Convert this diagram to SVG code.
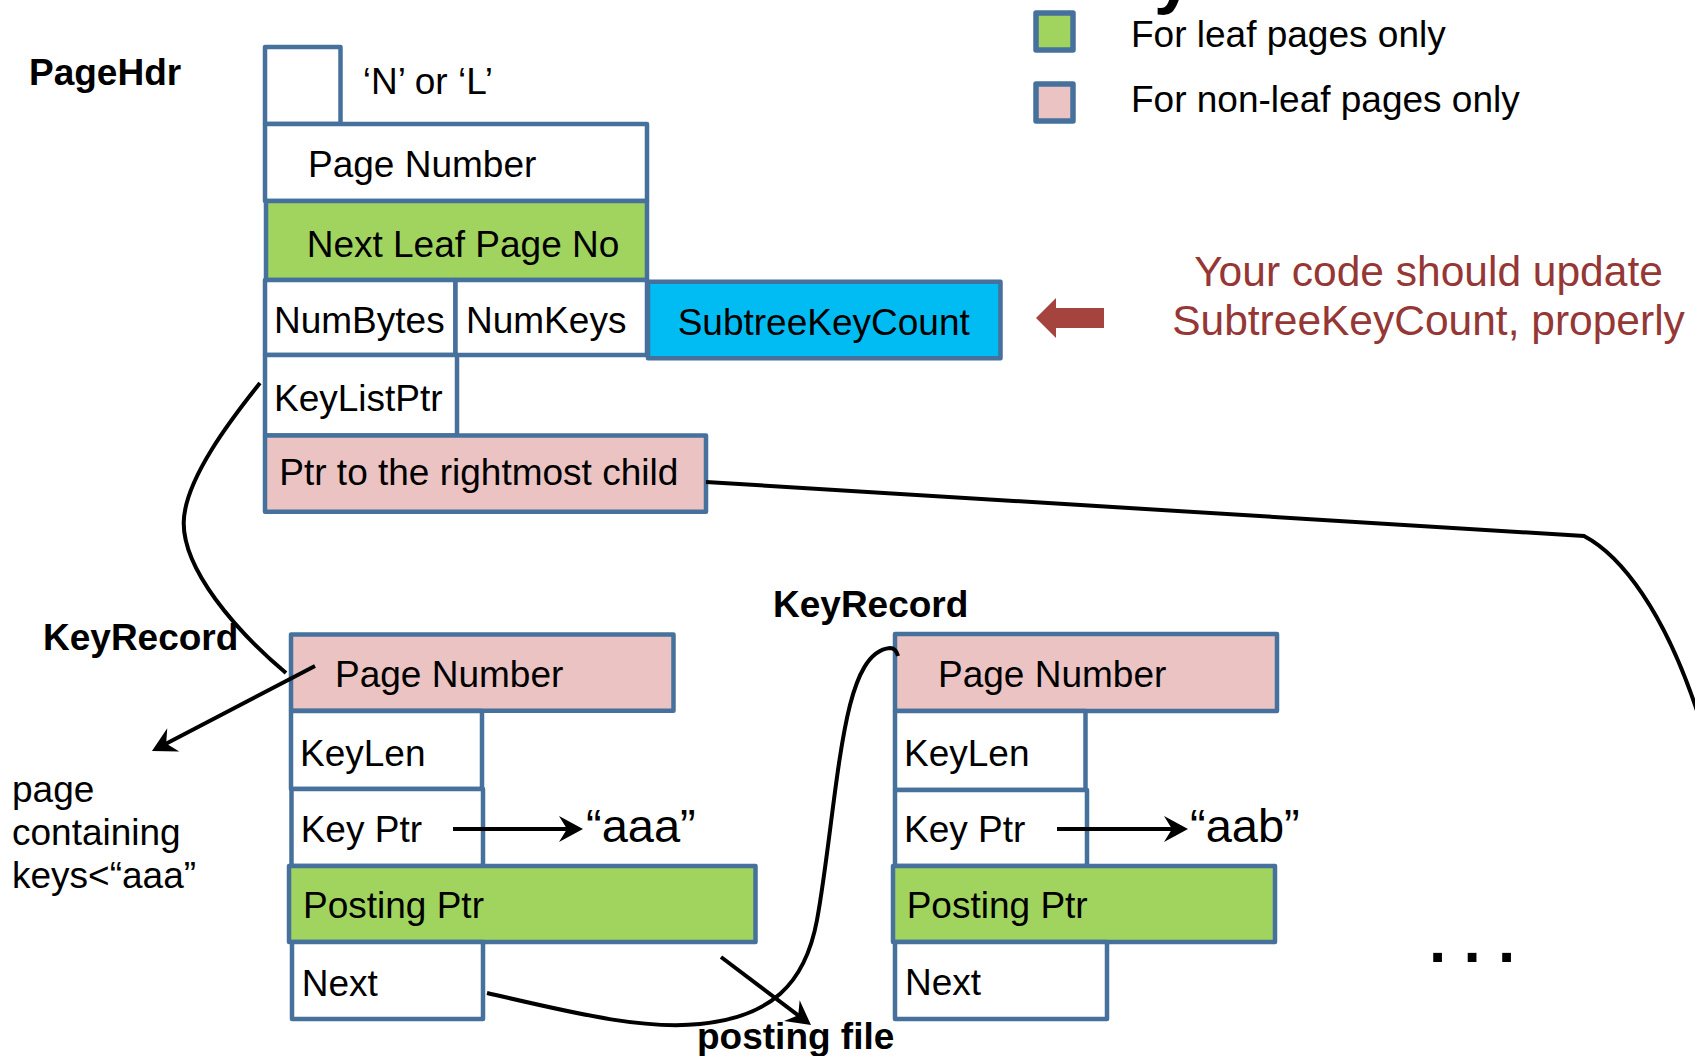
<svg xmlns="http://www.w3.org/2000/svg" width="1695" height="1056" viewBox="0 0 1695 1056">
<style>
  text { font-family: "Liberation Sans", Arial, sans-serif; fill: #000; }
  .t { font-size: 37px; }
  .b { font-size: 37px; font-weight: bold; }
  .q { font-size: 47px; }
  .red { font-size: 42.5px; fill: #953735; text-anchor: middle; }
  .cell { stroke: #46719c; stroke-width: 4.5; stroke-linejoin: round; }
  .w { fill: #ffffff; }
  .g { fill: #a0d45f; }
  .p { fill: #eac3c2; }
  .c { fill: #00bcf2; }
  .leg { stroke: #46719c; stroke-width: 5.5; stroke-linejoin: round; }
  .conn { fill: none; stroke: #000; stroke-width: 4; }
</style>
<defs>
  <marker id="ah" markerUnits="userSpaceOnUse" viewBox="-20 -15 28 30" refX="0" refY="0" markerWidth="28" markerHeight="30" orient="auto" overflow="visible">
    <path d="M6,0 L-18,-13 L-10,0 L-18,13 Z" fill="#000"/>
  </marker>
</defs>
<rect width="1695" height="1056" fill="#ffffff"/>

<!-- cut-off title fragment -->
<text x="1154" y="0" style="font-size:70px;font-weight:bold">y</text>

<!-- Legend -->
<g id="legend-leaf">
  <rect class="leg g" x="1036" y="13" width="37" height="37"/>
  <text class="t" x="1131" y="47">For leaf pages only</text>
</g>
<g id="legend-nonleaf">
  <rect class="leg p" x="1036" y="84" width="37" height="37"/>
  <text class="t" x="1131" y="112">For non-leaf pages only</text>
</g>

<!-- PageHdr -->
<g id="label-pagehdr"><text class="b" x="29" y="85">PageHdr</text></g>
<g id="hdr-type">
  <rect class="cell w" x="265" y="47" width="75.5" height="77"/>
  <text class="t" x="362.7" y="94">‘N’ or ‘L’</text>
</g>
<g id="hdr-pagenumber">
  <rect class="cell w" x="265" y="124" width="382" height="77"/>
  <text class="t" x="308" y="177">Page Number</text>
</g>
<g id="hdr-nextleaf">
  <rect class="cell g" x="266" y="201" width="381" height="79"/>
  <text class="t" x="306.7" y="257">Next Leaf Page No</text>
</g>
<g id="hdr-numbytes">
  <rect class="cell w" x="265" y="280" width="190.5" height="75"/>
  <text class="t" x="274" y="333">NumBytes</text>
</g>
<g id="hdr-numkeys">
  <rect class="cell w" x="455.5" y="280" width="191.5" height="75"/>
  <text class="t" x="466" y="333">NumKeys</text>
</g>
<g id="hdr-subtree">
  <rect class="cell c" x="648" y="281.7" width="352.5" height="76.6"/>
  <text class="t" x="677.7" y="335">SubtreeKeyCount</text>
</g>
<g id="hdr-keylistptr">
  <rect class="cell w" x="265" y="355" width="192" height="80.5"/>
  <text class="t" x="274" y="411">KeyListPtr</text>
</g>
<g id="hdr-rightmost">
  <rect class="cell p" x="265" y="435.5" width="441" height="76.2"/>
  <text class="t" x="279.3" y="485">Ptr to the rightmost child</text>
</g>

<!-- Note -->
<g id="note">
  <polygon points="1036,318 1056,298 1056,308 1104,308 1104,328 1056,328 1056,338" fill="#a5443f"/>
  <text class="red" x="1428.5" y="286">Your code should update</text>
  <text class="red" x="1428.5" y="335">SubtreeKeyCount, properly</text>
</g>

<!-- Left KeyRecord -->
<g id="label-keyrecord-1"><text class="b" x="43" y="650">KeyRecord</text></g>
<g id="kr1-pagenumber">
  <rect class="cell p" x="291" y="634.5" width="382.5" height="76.3"/>
  <text class="t" x="335" y="687">Page Number</text>
</g>
<g id="kr1-keylen">
  <rect class="cell w" x="291" y="711" width="191" height="78"/>
  <text class="t" x="300" y="766">KeyLen</text>
</g>
<g id="kr1-keyptr">
  <rect class="cell w" x="291.5" y="789" width="191.5" height="77"/>
  <text class="t" x="300.7" y="842">Key Ptr</text>
</g>
<g id="kr1-posting">
  <rect class="cell g" x="289" y="866" width="466.5" height="76"/>
  <text class="t" x="303" y="918">Posting Ptr</text>
</g>
<g id="kr1-next">
  <rect class="cell w" x="292" y="942" width="191" height="77"/>
  <text class="t" x="301.7" y="996">Next</text>
</g>
<g id="key-aaa"><text class="q" x="586" y="842">“aaa”</text></g>
<g id="label-page-containing">
  <text class="t" x="12" y="802">page</text>
  <text class="t" x="12" y="845">containing</text>
  <text class="t" x="12" y="888">keys&lt;“aaa”</text>
</g>
<g id="label-posting-file"><text class="b" x="697" y="1049">posting file</text></g>

<!-- Right KeyRecord -->
<g id="label-keyrecord-2"><text class="b" x="773" y="617">KeyRecord</text></g>
<g id="kr2-pagenumber">
  <rect class="cell p" x="895" y="634" width="382" height="77"/>
  <text class="t" x="938" y="687">Page Number</text>
</g>
<g id="kr2-keylen">
  <rect class="cell w" x="895" y="711" width="190.5" height="79"/>
  <text class="t" x="904" y="766">KeyLen</text>
</g>
<g id="kr2-keyptr">
  <rect class="cell w" x="895" y="790" width="192" height="76"/>
  <text class="t" x="904" y="842">Key Ptr</text>
</g>
<g id="kr2-posting">
  <rect class="cell g" x="893" y="866" width="382" height="76"/>
  <text class="t" x="906.7" y="918">Posting Ptr</text>
</g>
<g id="kr2-next">
  <rect class="cell w" x="895" y="942" width="212" height="77"/>
  <text class="t" x="905" y="995">Next</text>
</g>
<g id="key-aab"><text class="q" x="1190" y="842">“aab”</text></g>
<g id="ellipsis"><text x="1429" y="962" style="font-size:62px;font-weight:bold">. . .</text></g>

<!-- Connectors -->
<g id="connectors">
  <path class="conn" d="M260,383 C232,418 184,480 183.7,523 C183.7,570 235,630 286,673"/>
  <path class="conn" d="M315,666 L157.3,748.2" marker-end="url(#ah)"/>
  <path class="conn" d="M453,829 L577,829" marker-end="url(#ah)"/>
  <path class="conn" d="M1057,829 L1182,829" marker-end="url(#ah)"/>
  <path class="conn" d="M721,957 L806.2,1021.4" marker-end="url(#ah)"/>
  <path class="conn" d="M487,993 C570,1012 640,1030 700,1024 C770,1017 805,985 817,920 C829,855 836,760 850,705 C857,678 868,650 890,648 Q896,648 898,656"/>
  <path class="conn" d="M706,482 L1584,536 C1620,555 1665,610 1700,720"/>
</g>
</svg>
